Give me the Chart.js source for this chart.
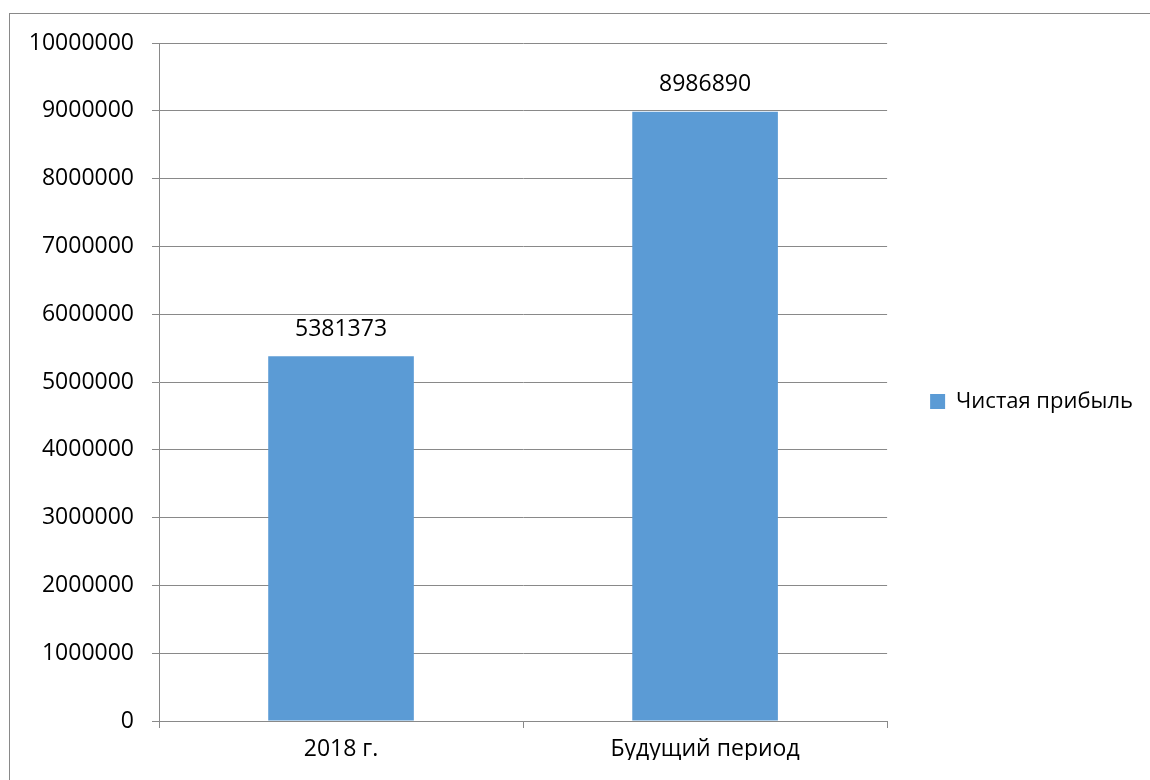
<!DOCTYPE html>
<html lang="ru">
  <head>
    <meta charset="utf-8">
    <title>Чистая прибыль</title>
    <style>
      html, body { margin: 0; padding: 0; background: #fff; }
      #wrap { position: relative; width: 1150px; height: 780px; overflow: hidden; }
      #frame { position: absolute; left: 9px; top: 13px; width: 1200px; height: 800px;
               border-left: 1px solid #898989; border-top: 1px solid #898989; pointer-events: none; }
      canvas { position: absolute; left: 0; top: 0; }
    </style>
  </head>
  <body>
    <div id="wrap">
      <canvas id="bar-chart" width="1150" height="780"></canvas>
      <div id="frame"></div>
    </div>

    <script src="https://cdn.jsdelivr.net/npm/chart.js@4/dist/chart.umd.min.js"></script>
    <script>
    const categories = ['2018 г.', 'Будущий период'];
    const profit = [5381373, 8986890];
    const seriesName = 'Чистая прибыль';

    const FONT = { family: '"Open Sans", sans-serif', size: 23 };
    const GRID = '#898989';

    // value labels above bars
    const barLabels = {
      id: 'barLabels',
      afterDatasetsDraw(chart) {
        const ctx = chart.ctx;
        ctx.save();
        ctx.font = FONT.size + 'px ' + FONT.family;
        ctx.fillStyle = '#000';
        ctx.textAlign = 'center';
        ctx.textBaseline = 'middle';
        chart.getDatasetMeta(0).data.forEach((bar, i) => {
          ctx.fillText(String(chart.data.datasets[0].data[i]), bar.x, bar.y - 27);
        });
        ctx.restore();
      }
    };

    new Chart(document.getElementById('bar-chart'), {
      type: 'bar',
      data: {
        labels: categories,
        datasets: [{
          label: seriesName,
          data: profit,
          backgroundColor: '#5B9BD5',
          barPercentage: 0.4,
          categoryPercentage: 1.0
        }]
      },
      options: {
        responsive: false,
        animation: false,
        layout: { padding: { top: 43, right: 7, bottom: 20, left: 0 } },
        plugins: {
          tooltip: { enabled: false },
          legend: {
            position: 'right',
            labels: {
              color: '#000',
              font: { family: FONT.family, size: 22 },
              boxWidth: 15,
              boxHeight: 15,
              padding: 43
            }
          }
        },
        scales: {
          y: {
            min: 0,
            max: 10000000,
            ticks: { stepSize: 1000000, color: '#000', font: FONT, padding: 18,
                     callback: v => String(v) },
            grid: { color: GRID, tickLength: 7 },
            border: { color: GRID },
            afterFit(scale) { scale.width = 159; }
          },
          x: {
            ticks: { color: '#000', font: FONT, padding: 8 },
            grid: { color: GRID, drawOnChartArea: false, tickLength: 7 },
            border: { color: GRID },
            afterFit(scale) { scale.height = 39; }
          }
        }
      },
      plugins: [barLabels]
    });
    </script>
  </body>
</html>
